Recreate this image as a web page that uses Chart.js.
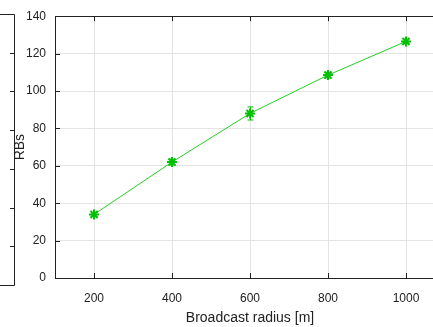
<!DOCTYPE html>
<html lang="en">
<head>
    <meta charset="UTF-8">
    <title>RBs vs broadcast radius</title>
    <script src="https://cdn.jsdelivr.net/npm/chart.js"></script>
    <style>
      html, body { margin:0; padding:0; background:#fff; overflow:hidden; }
      #wrap { position:absolute; left:0; top:0; width:500px; height:327px; }
    </style>
</head>
<body>
    <div id="wrap">
        <canvas id="myChart" width="500" height="327"></canvas>
    </div>
      <script>
        const radius = [200, 400, 600, 800, 1000];
        const rbs = [34, 62, 88, 108.5, 126.5];
        const rbsErr = [1, 1.5, 3.5, 1.5, 1.2];
        const xTicks = [200, 400, 600, 800, 1000];
        const yTicks = [0, 20, 40, 60, 80, 100, 120, 140];

        const green = '#00c000';

        // error bars + inward ticks + frame (gnuplot look)
        const extras = {
          id: 'extras',
          afterDatasetsDraw(chart){
            const c = chart.ctx, xs = chart.scales.x, ys = chart.scales.y;
            c.save();
            c.strokeStyle = green;
            c.lineWidth = 1;
            for(let i = 0; i < radius.length; i++){
              let px = Math.round(xs.getPixelForValue(radius[i])) + 0.5;
              let y1 = ys.getPixelForValue(rbs[i] - rbsErr[i]);
              let y2 = ys.getPixelForValue(rbs[i] + rbsErr[i]);
              c.beginPath();
              c.moveTo(px, y1); c.lineTo(px, y2);
              c.moveTo(px - 3, y1); c.lineTo(px + 3, y1);
              c.moveTo(px - 3, y2); c.lineTo(px + 3, y2);
              c.stroke();
            }
            c.restore();
          },
          afterDraw(chart){
            const c = chart.ctx, a = chart.chartArea, xs = chart.scales.x, ys = chart.scales.y;
            c.save();
            c.strokeStyle = '#222';
            c.lineWidth = 1;
            c.beginPath();
            c.rect(Math.round(a.left) + 0.5, Math.round(a.top) + 0.5, Math.round(a.right - a.left), Math.round(a.bottom - a.top));
            c.stroke();
            c.beginPath();
            xTicks.forEach(v => {
              let px = Math.round(xs.getPixelForValue(v)) + 0.5;
              c.moveTo(px, a.bottom); c.lineTo(px, a.bottom - 5);
              c.moveTo(px, a.top); c.lineTo(px, a.top + 5);
            });
            yTicks.forEach(v => {
              let py = Math.round(ys.getPixelForValue(v)) + 0.5;
              c.moveTo(a.left, py); c.lineTo(a.left + 5, py);
            });
            c.stroke();
            // edge of the neighbouring panel on the left
            c.beginPath();
            c.moveTo(0, 14.5); c.lineTo(14.5, 14.5); c.lineTo(14.5, 285.5); c.lineTo(0, 285.5);
            for(let k = 1; k < 7; k++){
              let py = Math.round(14 + k * (271 / 7)) + 0.5;
              c.moveTo(14.5, py); c.lineTo(10, py);
            }
            c.stroke();
            c.restore();
          }
        };

        const ctx = document.getElementById('myChart');
        let configs = {
          type: 'line',
          data: {
            datasets: [{
              data: radius.map((r, i) => ({x: r, y: rbs[i]})),
              borderColor: '#22d022',
              borderWidth: 1,
              pointStyle: 'star',
              pointRadius: 5,
              pointBorderWidth: 2,
              pointBorderColor: green,
              pointBackgroundColor: green,
              tension: 0
            }]
          },
          options: {
            responsive: false,
            animation: false,
            layout: { padding: { top: 14, right: 55, left: 0, bottom: 0 } },
            plugins: { legend: { display: false }, tooltip: { enabled: false } },
            scales: {
              x: {
                type: 'linear',
                min: 100,
                max: 1100,
                afterBuildTicks: s => { s.ticks = xTicks.map(v => ({value: v})); },
                afterFit: s => { s.height = 49; },
                grid: { color: '#e4e4e4', drawTicks: false },
                border: { display: false },
                ticks: { color: '#222', padding: 13, callback: v => String(v),
                         font: { family: 'Liberation Sans', size: 12 } },
                title: { display: true, text: 'Broadcast radius [m]', color: '#222', padding: { top: 4, bottom: 0 },
                         font: { family: 'Liberation Sans', size: 14 } }
              },
              y: {
                min: 0,
                max: 140,
                afterBuildTicks: s => { s.ticks = yTicks.map(v => ({value: v})); },
                afterFit: s => { s.width = 55; },
                grid: { color: '#e4e4e4', drawTicks: false },
                border: { display: false },
                ticks: { color: '#222', padding: 9, font: { family: 'Liberation Sans', size: 12 } },
                title: { display: true, text: 'RBs', color: '#222', padding: { top: 12, bottom: 0 },
                         font: { family: 'Liberation Sans', size: 14 } }
              }
            }
          },
          plugins: [extras]
        }
       let myChart = new Chart(ctx, configs);
      </script>
</body>
</html>
